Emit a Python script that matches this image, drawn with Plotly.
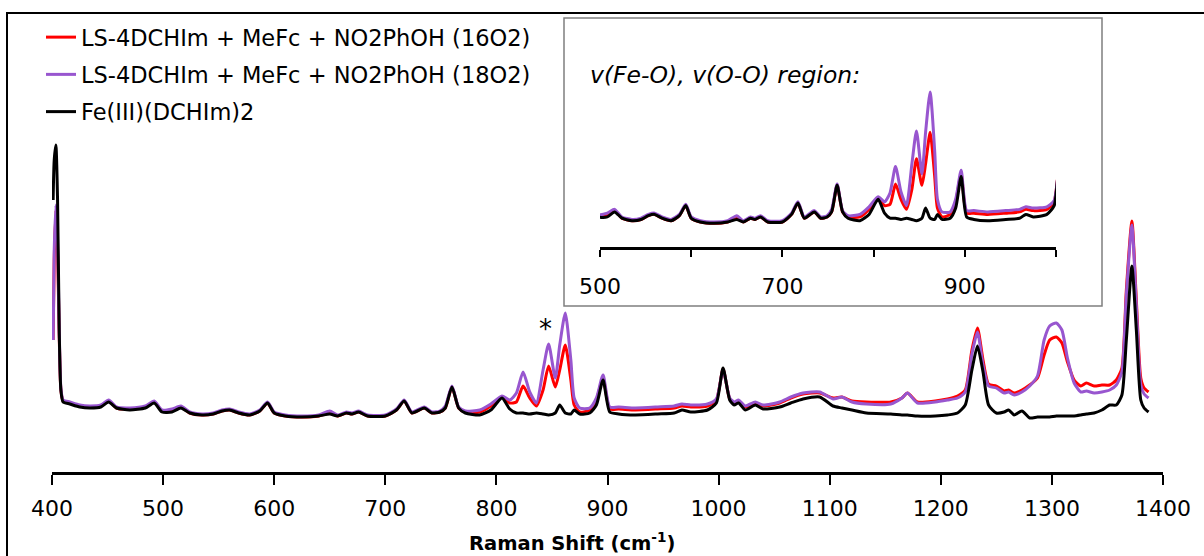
import plotly.graph_objects as go

# Raman shift (cm-1)
wavenumber = [401, 402, 403.5, 405, 406.5, 408, 410, 416, 425, 434, 444, 451, 458, 470, 484, 492, 499, 508, 516, 524,
              535, 545, 553, 560, 568, 578, 587, 594, 600, 610, 625, 640, 650, 657, 665, 670, 676, 684, 700, 710,
              717, 724, 735, 742, 749, 754, 760, 766, 772, 785, 795, 805, 812, 818, 824, 830, 836, 842, 847, 853,
              857, 862, 867, 870, 875, 884, 890, 896, 902, 910, 925, 945, 960, 967, 975, 990, 998, 1004, 1010, 1014,
              1018, 1024, 1033, 1040, 1055, 1065, 1076, 1091, 1103, 1111, 1120, 1133, 1155, 1165, 1170, 1179, 1195, 1206, 1215, 1222,
              1228, 1233, 1238, 1243, 1250, 1257, 1261, 1266, 1273, 1280, 1287, 1293, 1298, 1304, 1309, 1314, 1320, 1326, 1331, 1338,
              1345, 1352, 1358, 1363, 1367, 1372, 1376, 1380, 1383, 1387]

# Intensities (arbitrary units)
fe_dchim = [272, 312, 327, 272, 142, 82, 70, 68, 65, 64, 65, 70, 64, 62, 64, 69, 60, 60, 64, 59,
            57, 58, 61, 62, 59, 57, 61, 69, 59, 56, 55, 56, 58, 56, 59, 58, 60, 56, 56, 62,
            71, 59, 64, 59, 60, 64, 85, 64, 59, 57, 62, 74, 63, 59, 59, 58, 59, 58, 57, 59,
            67, 59, 58, 62, 58, 59, 67, 92, 60, 58, 57, 58, 59, 62, 60, 62, 69, 104, 72, 67,
            69, 62, 67, 63, 65, 69, 73, 75, 66, 64, 62, 59, 58, 57, 57, 56, 56, 57, 59, 67,
            102, 126, 100, 67, 59, 60, 62, 57, 61, 54, 55, 55, 55, 56, 56, 56, 56, 57, 58, 59,
            62, 67, 67, 77, 132, 206, 142, 72, 64, 60]

ls_16o2 = [132, 212, 262, 222, 137, 82, 71, 69, 66, 65, 66, 71, 64, 63, 65, 70, 61, 61, 65, 59,
           57, 58, 61, 62, 59, 57, 61, 69, 59, 56, 55, 56, 59, 56, 59, 58, 60, 56, 56, 62,
           71, 59, 64, 59, 60, 64, 85, 64, 60, 60, 66, 75, 69, 70, 86, 74, 66, 82, 106, 85,
           102, 127, 92, 67, 60, 62, 72, 94, 63, 63, 62, 63, 64, 66, 65, 66, 72, 103, 73, 69,
           71, 65, 69, 66, 69, 74, 78, 79, 74, 75, 71, 70, 70, 74, 79, 70, 71, 73, 76, 82,
           122, 144, 112, 88, 86, 81, 82, 79, 82, 87, 94, 117, 132, 135, 129, 110, 92, 86, 89, 86,
           87, 87, 92, 104, 182, 251, 172, 94, 84, 80]

ls_18o2 = [132, 222, 267, 232, 142, 84, 72, 70, 67, 66, 67, 72, 65, 64, 66, 71, 62, 63, 66, 60,
           58, 59, 62, 63, 60, 58, 62, 70, 60, 57, 56, 57, 61, 57, 60, 59, 61, 57, 57, 63,
           72, 60, 65, 60, 61, 66, 86, 65, 61, 62, 68, 76, 72, 79, 100, 80, 69, 102, 128, 94,
           127, 159, 112, 74, 64, 64, 74, 97, 65, 65, 64, 65, 66, 68, 67, 68, 73, 102, 74, 70,
           72, 66, 70, 67, 70, 75, 79, 80, 73, 75, 70, 68, 68, 74, 79, 69, 70, 72, 74, 80,
           118, 140, 107, 86, 84, 79, 80, 77, 80, 86, 96, 132, 146, 149, 142, 114, 89, 80, 81, 79,
           80, 82, 87, 100, 177, 247, 167, 87, 78, 74]

series_names = ["LS-4DCHIm + MeFc + NO2PhOH (16O2)",
                "LS-4DCHIm + MeFc + NO2PhOH (18O2)",
                "Fe(III)(DCHIm)2"]
series_values = [ls_16o2, ls_18o2, fe_dchim]
series_colors = ["#FF0000", "#9856CF", "#000000"]

main_ticks = [400, 500, 600, 700, 800, 900, 1000, 1100, 1200, 1300, 1400]
inset_labeled_ticks = [500, 700, 900]

FONT = "DejaVu Sans"

fig = go.Figure()

for name, vals, col in zip(series_names, series_values, series_colors):
    fig.add_trace(go.Scatter(
        x=wavenumber, y=vals, mode="lines", name=name, legendgroup=name,
        line=dict(color=col, width=3, shape="spline", smoothing=0.6),
        xaxis="x", yaxis="y", hoverinfo="skip"))

for name, vals, col in zip(series_names, series_values, series_colors):
    fig.add_trace(go.Scatter(
        x=wavenumber, y=vals, mode="lines", name=name, showlegend=False,
        line=dict(color=col, width=3, shape="spline", smoothing=0.6),
        xaxis="x2", yaxis="y2", hoverinfo="skip"))

W, H = 1204, 556
ml, mr, mt, mb = 52, 41, 10, 84
pw, ph = W - ml - mr, H - mt - mb


def px(xp):
    return (xp - ml) / pw


def py(yp):
    return (H - mb - yp) / ph


fig.update_layout(
    width=W, height=H,
    margin=dict(l=ml, r=mr, t=mt, b=mb),
    paper_bgcolor="white", plot_bgcolor="white",
    font=dict(family=FONT, color="black"),
    showlegend=True,
    legend=dict(x=px(41), y=py(16), xanchor="left", yanchor="top",
                font=dict(family=FONT, size=22.5, color="black"),
                bgcolor="rgba(0,0,0,0)", tracegroupgap=5, traceorder="grouped"),
    xaxis=dict(range=[400, 1400], domain=[0, 1], anchor="y",
               tickmode="array", tickvals=main_ticks,
               ticks="outside", ticklen=10, tickwidth=2, tickcolor="black",
               showline=True, linewidth=3, linecolor="black",
               showgrid=False, zeroline=False, ticklabelstandoff=5,
               tickfont=dict(family=FONT, size=22, color="black")),
    yaxis=dict(range=[0, ph], domain=[0, 1], visible=False, fixedrange=True),
    xaxis2=dict(range=[500, 1000], domain=[px(600), px(1056)], anchor="y2",
                tickmode="array", tickvals=inset_labeled_ticks,
                ticks="outside", ticklen=7, tickwidth=2, tickcolor="black",
                minor=dict(tick0=500, dtick=100, ticks="outside", ticklen=7, tickwidth=2,
                           tickcolor="black", showgrid=False),
                showline=True, linewidth=3, linecolor="black",
                showgrid=False, zeroline=False, ticklabelstandoff=11,
                tickfont=dict(family=FONT, size=22, color="black")),
    yaxis2=dict(range=[36.2, 208], domain=[py(247), py(30)], anchor="x2", visible=False),
    shapes=[
        dict(type="rect", xref="paper", yref="paper", x0=px(7), x1=px(1215), y0=py(580), y1=py(13),
             line=dict(color="black", width=2), fillcolor="rgba(0,0,0,0)", layer="below"),
        dict(type="rect", xref="paper", yref="paper", x0=px(564), x1=px(1102), y0=py(306), y1=py(18),
             line=dict(color="#7F7F7F", width=1.5), fillcolor="white", layer="below"),
    ],
    annotations=[
        dict(text="<b>Raman Shift (cm<sup>-1</sup>)</b>", xref="paper", yref="paper",
             x=px(572), y=py(542), xanchor="center", yanchor="middle", showarrow=False,
             font=dict(family=FONT, size=19.5, color="black")),
        dict(text="*", xref="x", yref="y", x=844, y=143, xanchor="center", yanchor="middle",
             showarrow=False, font=dict(family=FONT, size=26, color="black")),
        dict(text="<i>v(Fe-O), v(O-O) region:</i>", xref="paper", yref="paper",
             x=px(588), y=py(75), xanchor="left", yanchor="middle", showarrow=False,
             font=dict(family=FONT, size=23.5, color="black")),
    ],
)

fig.write_html("out.html")
